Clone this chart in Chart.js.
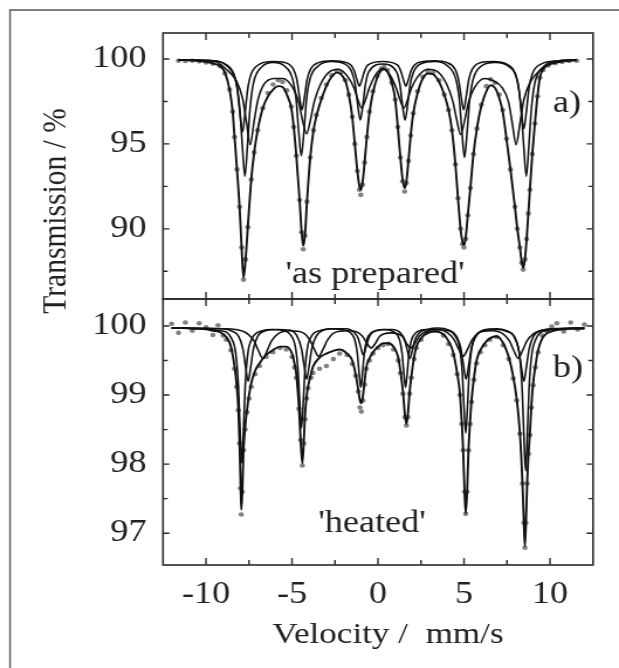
<!DOCTYPE html>
<html><head><meta charset="utf-8">
<script src="https://cdn.jsdelivr.net/npm/chart.js@4.4.1/dist/chart.umd.min.js"></script>
<style>
html,body{margin:0;padding:0;background:#fff;}
#wrap{position:relative;width:619px;height:668px;overflow:hidden;background:#fff;}
canvas{position:absolute;left:0;top:0;}
</style></head><body>
<div id="wrap">
<canvas id="ca" width="529" height="668" style="width:619px;height:668px"></canvas>
<canvas id="cb" width="529" height="668" style="width:619px;height:668px"></canvas>
</div>
<script>
// ---------- tick labels ----------
const xTicksMajor = [-10, -5, 0, 5, 10];
const xTicksMinor = [-7.5, -2.5, 2.5, 7.5];
const yTicksA = [90, 95, 100];
const yTicksAMinor = [87.5, 92.5, 97.5];
const yTicksB = [97, 98, 99, 100];
const yTicksBMinor = [97.5, 98.5, 99.5];

// ---------- panel a) 'as prepared' : velocity (mm/s), total fit, measured ----------
const velA = [
-11.6, -11.2, -10.8, -10.4, -10.0, -9.6, -9.2, -8.9, -8.63, -8.45,
-8.34, -8.2, -8.05, -7.93, -7.82, -7.7, -7.57, -7.37, -7.2, -7.0,
-6.7, -6.4, -6.1, -5.8, -5.55, -5.3, -5.04, -4.9, -4.75, -4.56,
-4.44, -4.35, -4.25, -4.13, -3.94, -3.75, -3.59, -3.3, -3.0, -2.7,
-2.4, -2.15, -1.9, -1.7, -1.5, -1.35, -1.2, -1.08, -1.0, -0.9,
-0.78, -0.65, -0.5, -0.3, -0.05, 0.2, 0.35, 0.55, 0.8, 1.0,
1.15, 1.3, 1.43, 1.55, 1.65, 1.77, 1.9, 2.05, 2.3, 2.6,
2.9, 3.2, 3.55, 3.85, 4.1, 4.3, 4.5, 4.65, 4.8, 4.92,
5.0, 5.1, 5.22, 5.37, 5.55, 5.75, 6.0, 6.3, 6.55, 6.8,
7.05, 7.25, 7.47, 7.7, 7.96, 8.1, 8.25, 8.35, 8.44, 8.54,
8.64, 8.74, 8.83, 8.97, 9.12, 9.27, 9.41, 9.6, 9.9, 10.3,
10.7, 11.1, 11.55];
const fitA = [
99.95, 99.94, 99.92, 99.88, 99.83, 99.74, 99.6, 99.2, 98.2, 96.9,
95.4, 93.5, 91.3, 88.9, 87.1, 88.2, 90.1, 92.9, 94.5, 95.8,
97.1, 97.8, 98.2, 98.4, 98.35, 97.9, 97.1, 96.0, 94.3, 91.7,
89.8, 89.0, 89.6, 91.6, 94.2, 95.8, 96.6, 97.6, 98.4, 98.95,
99.2, 99.1, 98.7, 97.9, 96.6, 95.0, 93.4, 92.5, 92.3, 92.7,
93.9, 95.4, 96.8, 98.0, 98.9, 99.35, 99.4, 99.25, 98.6, 97.6,
96.0, 94.2, 92.9, 92.4, 92.8, 94.0, 95.5, 96.8, 98.0, 98.85,
99.15, 99.1, 98.65, 97.9, 97.0, 95.8, 93.8, 91.8, 90.0, 89.2,
89.05, 89.5, 90.8, 92.4, 94.4, 95.9, 97.2, 98.1, 98.45, 98.3,
97.7, 96.9, 95.3, 93.5, 91.3, 90.0, 88.9, 88.1, 87.7, 88.2,
89.4, 90.9, 92.3, 94.4, 96.2, 97.8, 98.9, 99.4, 99.65, 99.78,
99.85, 99.9, 99.93];
const dataA = [
99.9, 99.88, 99.9, 99.86, 99.8, 99.72, 99.58, 99.15, 98.2, 96.9,
95.4, 93.5, 91.3, 88.9, 87.0, 88.2, 90.1, 92.9, 94.5, 95.8,
97.1, 98.0, 98.5, 98.75, 98.65, 98.15, 97.2, 96.0, 94.3, 91.7,
89.8, 88.8, 89.6, 91.6, 94.2, 95.8, 96.7, 97.7, 98.5, 99.05,
99.3, 99.2, 98.75, 97.9, 96.6, 95.0, 93.4, 92.3, 92.0, 92.6,
93.9, 95.4, 96.9, 98.1, 99.0, 99.45, 99.55, 99.35, 98.6, 97.6,
96.0, 94.2, 92.8, 92.2, 92.7, 94.0, 95.5, 96.8, 98.1, 98.95,
99.3, 99.2, 98.75, 97.9, 97.0, 95.8, 93.8, 91.8, 90.0, 89.1,
88.9, 89.4, 90.8, 92.4, 94.4, 95.9, 97.3, 98.4, 98.8, 98.6,
97.9, 97.0, 95.3, 93.5, 91.3, 90.0, 88.9, 88.0, 87.6, 88.2,
89.4, 90.9, 92.3, 94.4, 96.2, 97.8, 98.9, 99.35, 99.62, 99.75,
99.83, 99.88, 99.9];

// panel a) sub-spectra
const subA1Vel = [-11.6, -9.5, -8.74, -8.24, -8.04, -7.89, -7.74, -7.59, -7.44, -7.24, -6.74, -6.1,
-5.46, -4.96, -4.76, -4.61, -4.46, -4.31, -4.16, -3.96, -3.46, -2.7,
-2.03, -1.53, -1.33, -1.18, -1.03, -0.88, -0.73, -0.53, 0.27,
1.07, 1.27, 1.42, 1.57, 1.72, 1.87, 2.07, 2.57, 3.3,
4.03, 4.53, 4.73, 4.88, 5.03, 5.18, 5.33, 5.53, 6.03, 6.8,
7.62, 8.12, 8.32, 8.47, 8.62, 8.77, 8.92, 9.12, 9.62, 10.5, 11.55];
const subA1 = [99.95, 99.9, 99.55, 98.6, 97.1, 94.9, 93.1, 94.9, 97.1, 98.6, 99.55, 99.8,
99.6, 98.8, 97.6, 95.7, 94.3, 95.7, 97.6, 98.8, 99.6, 99.85,
99.75, 99.25, 98.5, 97.3, 96.4, 97.3, 98.5, 99.25, 99.7,
99.25, 98.5, 97.3, 96.4, 97.3, 98.5, 99.25, 99.75, 99.85,
99.6, 98.8, 97.6, 95.7, 94.2, 95.7, 97.6, 98.8, 99.6, 99.8,
99.55, 98.6, 97.1, 94.9, 93.1, 94.9, 97.1, 98.6, 99.55, 99.9, 99.95];

const subA2Vel = [-11.6, -9.6, -8.88, -8.38, -8.18, -8.03, -7.88, -7.73, -7.58, -7.38, -6.88, -6.15,
-5.42, -4.92, -4.72, -4.57, -4.42, -4.27, -4.12, -3.92, -3.42, -2.7,
-2.08, -1.58, -1.38, -1.23, -1.08, -0.93, -0.78, -0.58, 0.27,
1.12, 1.32, 1.47, 1.62, 1.77, 1.92, 2.12, 2.62, 3.3,
3.98, 4.48, 4.68, 4.83, 4.98, 5.13, 5.28, 5.48, 5.98, 6.7,
7.48, 7.98, 8.18, 8.33, 8.48, 8.63, 8.78, 8.98, 9.48, 10.5, 11.55];
const subA2 = [99.95, 99.9, 99.7, 99.1, 98.2, 96.8, 95.7, 96.8, 98.2, 99.1, 99.7, 99.85,
99.8, 99.4, 98.8, 97.8, 97.0, 97.8, 98.8, 99.4, 99.8, 99.9,
99.85, 99.65, 99.3, 98.8, 98.4, 98.8, 99.3, 99.65, 99.85,
99.65, 99.3, 98.8, 98.4, 98.8, 99.3, 99.65, 99.85, 99.9,
99.8, 99.4, 98.8, 97.8, 97.0, 97.8, 98.8, 99.4, 99.8, 99.85,
99.7, 99.15, 98.3, 96.95, 95.9, 96.95, 98.3, 99.15, 99.7, 99.9, 99.95];

const subA3Vel = [-11.6, -9.5, -8.83, -8.23, -7.88, -7.65, -7.43, -7.21, -6.98, -6.63, -6.03,
-5.55, -4.95, -4.6, -4.37, -4.15, -3.93, -3.7, -3.35, -2.75, -2.3,
-1.75, -1.4, -1.17, -0.95, -0.73, -0.5, -0.15, 0.3,
0.7, 1.05, 1.28, 1.5, 1.72, 1.95, 2.3, 2.9,
3.4, 4.0, 4.35, 4.58, 4.8, 5.02, 5.25, 5.6, 6.2,
6.63, 7.23, 7.58, 7.81, 8.03, 8.25, 8.48, 8.83, 9.43, 10.3, 11.55];
const subA3 = [99.93, 99.85, 99.4, 98.7, 97.7, 96.3, 94.95, 96.3, 97.6, 98.5, 98.85,
98.85, 98.3, 97.4, 96.3, 95.6, 96.4, 97.5, 98.5, 99.3, 99.4,
98.95, 98.3, 97.6, 97.1, 97.6, 98.3, 99.05, 99.45,
99.05, 98.3, 97.6, 97.1, 97.6, 98.3, 98.95, 99.4,
99.3, 98.5, 97.5, 96.4, 95.55, 96.3, 97.4, 98.3, 98.85,
98.75, 98.3, 97.5, 96.2, 94.95, 96.2, 97.6, 98.6, 99.35, 99.8, 99.93];

// ---------- panel b) 'heated' ----------
const velB = [
-12.0, -11.6, -11.2, -10.8, -10.4, -10.0, -9.6, -9.3, -9.0, -8.82,
-8.55, -8.34, -8.22, -8.12, -8.05, -7.99, -7.95, -7.89, -7.82, -7.72,
-7.62, -7.5, -7.37, -7.15, -6.89, -6.5, -6.11, -5.7, -5.33, -5.0,
-4.85, -4.75, -4.6, -4.5, -4.4, -4.32, -4.25, -4.15, -4.07, -3.9,
-3.78, -3.4, -3.0, -2.6, -2.23, -1.8, -1.5, -1.3, -1.15, -1.05,
-0.97, -0.88, -0.78, -0.68, -0.5, -0.29, 0.0, 0.29, 0.6, 0.9,
1.17, 1.3, 1.45, 1.57, 1.65, 1.73, 1.84, 1.94, 2.1, 2.23,
2.5, 2.82, 3.3, 3.8, 4.1, 4.37, 4.6, 4.76, 4.87, 4.95,
5.03, 5.1, 5.18, 5.26, 5.35, 5.44, 5.58, 5.73, 5.95, 6.21,
6.5, 6.89, 7.28, 7.6, 7.86, 8.06, 8.25, 8.4, 8.48, 8.54,
8.6, 8.67, 8.75, 8.83, 8.92, 9.02, 9.15, 9.31, 9.55, 9.8,
10.1, 10.4, 10.8, 11.2, 11.6, 12.0];
const fitB = [
99.97, 99.97, 99.97, 99.96, 99.96, 99.95, 99.93, 99.92, 99.88, 99.84,
99.7, 99.41, 99.15, 98.8, 98.3, 97.7, 97.34, 97.6, 98.2, 98.55,
98.78, 99.0, 99.17, 99.35, 99.46, 99.58, 99.65, 99.7, 99.7, 99.6,
99.45, 99.3, 98.83, 98.35, 98.01, 98.3, 98.69, 98.98, 99.12, 99.3,
99.41, 99.54, 99.6, 99.64, 99.66, 99.6, 99.5, 99.3, 99.08, 98.92,
98.88, 98.98, 99.2, 99.4, 99.53, 99.62, 99.7, 99.75, 99.75, 99.7,
99.55, 99.35, 99.05, 98.7, 98.58, 98.7, 99.05, 99.27, 99.55, 99.7,
99.82, 99.89, 99.92, 99.88, 99.78, 99.62, 99.32, 99.03, 98.6, 98.2,
97.6, 97.29, 97.6, 98.2, 98.6, 98.93, 99.25, 99.5, 99.65, 99.75,
99.82, 99.85, 99.75, 99.55, 99.27, 98.95, 98.45, 97.72, 97.15, 96.81,
97.15, 97.72, 98.15, 98.45, 98.85, 99.17, 99.42, 99.65, 99.82, 99.89,
99.92, 99.94, 99.95, 99.96, 99.96, 99.96];
const dataB = [
100.03, 99.9, 100.05, 99.93, 100.04, 99.98, 99.87, 100.01, 99.86, 99.8,
99.65, 99.38, 99.12, 98.78, 98.3, 97.65, 97.27, 97.6, 98.2, 98.5,
98.75, 98.95, 99.12, 99.3, 99.42, 99.55, 99.62, 99.68, 99.66, 99.55,
99.4, 99.25, 98.8, 98.35, 97.98, 98.3, 98.65, 98.95, 99.1, 99.25,
99.32, 99.38, 99.42, 99.52, 99.6, 99.58, 99.45, 99.28, 99.05, 98.82,
98.76, 98.92, 99.15, 99.38, 99.5, 99.6, 99.68, 99.72, 99.74, 99.66,
99.5, 99.32, 99.02, 98.68, 98.56, 98.68, 99.02, 99.25, 99.52, 99.68,
99.8, 99.9, 99.94, 99.86, 99.74, 99.58, 99.3, 99.0, 98.58, 98.2,
97.6, 97.28, 97.6, 98.2, 98.58, 98.9, 99.22, 99.46, 99.62, 99.72,
99.8, 99.84, 99.72, 99.52, 99.24, 98.92, 98.44, 97.72, 97.15, 96.79,
97.15, 97.72, 98.15, 98.42, 98.82, 99.14, 99.4, 99.62, 99.86, 99.93,
99.99, 100.04, 99.92, 100.05, 99.95, 100.02];

// panel b) sub-spectra
const subB1Vel = [-12, -9.12, -8.52, -8.27, -8.12, -8.02, -7.92, -7.82, -7.72, -7.57, -7.32, -6.72, -6.2,
-5.65, -5.05, -4.8, -4.65, -4.55, -4.45, -4.35, -4.25, -4.1, -3.85, -3.25, -2.7,
-2.2, -1.6, -1.35, -1.2, -1.1, -1.0, -0.9, -0.8, -0.65, -0.4, 0.3,
1.0, 1.25, 1.4, 1.5, 1.6, 1.7, 1.8, 1.95, 2.2, 2.8,
3.9, 4.5, 4.75, 4.9, 5.0, 5.1, 5.2, 5.3, 5.45, 5.7, 6.3, 6.9,
7.38, 7.98, 8.23, 8.38, 8.48, 8.58, 8.68, 8.78, 8.93, 9.18, 9.78, 12];
const subB1 = [99.97, 99.93, 99.82, 99.6, 99.14, 98.5, 98.02, 98.5, 99.14, 99.6, 99.82, 99.93, 99.95,
99.94, 99.86, 99.69, 99.35, 98.88, 98.52, 98.88, 99.35, 99.69, 99.86, 99.94, 99.96,
99.95, 99.9, 99.8, 99.6, 99.32, 99.11, 99.32, 99.6, 99.8, 99.9, 99.95,
99.9, 99.8, 99.6, 99.32, 99.11, 99.32, 99.6, 99.8, 99.9, 99.95,
99.94, 99.85, 99.68, 99.32, 98.82, 98.45, 98.82, 99.32, 99.68, 99.85, 99.94, 99.95,
99.93, 99.81, 99.57, 99.09, 98.42, 97.9, 98.42, 99.09, 99.57, 99.81, 99.93, 99.97];

const subB2Vel = [-12, -9.0, -8.55, -8.1, -7.85, -7.7, -7.55, -7.4, -7.25, -7.0, -6.55, -5.85,
-5.15, -4.7, -4.45, -4.3, -4.15, -4.0, -3.85, -3.6, -3.15, -2.5,
-1.85, -1.4, -1.15, -1.0, -0.85, -0.7, -0.55, -0.3, 0.5,
0.85, 1.3, 1.55, 1.7, 1.85, 2.0, 2.15, 2.4, 2.85, 3.5,
4.12, 4.57, 4.82, 4.97, 5.12, 5.27, 5.42, 5.67, 6.12, 6.9,
7.48, 7.93, 8.18, 8.33, 8.48, 8.63, 8.78, 9.03, 9.48, 10.5, 12];
const subB2 = [99.97, 99.96, 99.93, 99.85, 99.66, 99.41, 99.2, 99.41, 99.66, 99.85, 99.93, 99.95,
99.94, 99.85, 99.67, 99.43, 99.23, 99.43, 99.67, 99.85, 99.94, 99.96,
99.96, 99.91, 99.82, 99.69, 99.58, 99.69, 99.82, 99.91, 99.95,
99.95, 99.9, 99.8, 99.65, 99.53, 99.65, 99.8, 99.9, 99.95, 99.97,
99.94, 99.85, 99.67, 99.43, 99.23, 99.43, 99.67, 99.85, 99.94, 99.96,
99.93, 99.85, 99.66, 99.41, 99.2, 99.41, 99.66, 99.85, 99.93, 99.96, 99.97];

const subB3Vel = [-12, -9.0, -8.3, -7.6, -7.2, -6.95, -6.7, -6.45, -6.2, -5.8, -5.1,
-4.35, -3.95, -3.7, -3.45, -3.2, -2.95, -2.55, -1.8,
-1.3, -0.9, -0.65, -0.4, -0.15, 0.1, 0.75,
1.4, 1.65, 1.9, 2.15, 2.4, 2.8, 3.4,
4.05, 4.45, 4.7, 4.95, 5.2, 5.45, 5.85, 6.6,
7.25, 7.65, 7.9, 8.15, 8.4, 8.65, 9.05, 9.75, 12];
const subB3 = [99.97, 99.96, 99.95, 99.89, 99.78, 99.64, 99.53, 99.64, 99.78, 99.89, 99.93,
99.9, 99.79, 99.66, 99.56, 99.66, 99.79, 99.9, 99.93,
99.92, 99.85, 99.75, 99.68, 99.75, 99.85, 99.9,
99.85, 99.75, 99.68, 99.75, 99.85, 99.92, 99.95,
99.9, 99.79, 99.66, 99.56, 99.66, 99.79, 99.9, 99.93,
99.89, 99.78, 99.64, 99.53, 99.64, 99.78, 99.89, 99.95, 99.97];

// ---------- layout (the source figure is stretched horizontally) ----------
const W = 529, H = 668, K = 619 / W;
const FONT = '"Liberation Serif", "Times New Roman", Times, serif';
const INK = '#222';
const X_MIN = -12.5, X_MAX = 12.5;
const YA_MIN = 85.87, YA_MAX = 101.53;
const YB_MIN = 96.54, YB_MAX = 100.39;
const PLOT_LEFT = 163 / K, PLOT_RIGHT = 593 / K;
const A_TOP = 33, MID = 299, B_BOTTOM = 565;
const TICK_SIZE = 31;

const pts = (xs, ys) => xs.map((x, i) => ({x, y: ys[i]}));
const lineSet = (xs, ys, w) => ({
  data: pts(xs, ys), borderColor: '#111', borderWidth: w, pointRadius: 0,
  cubicInterpolationMode: 'monotone', fill: false, order: 1
});
const dotSet = (xs, ys) => ({
  data: pts(xs, ys), showLine: false, pointRadius: 2.3, pointBorderWidth: 0,
  pointBackgroundColor: '#828282', borderColor: '#828282', order: 5
});

const framePlugin = (yMajor, yMinor) => ({
  id: 'frame',
  afterDatasetsDraw(chart) {
    const {ctx, chartArea: a} = chart;
    const sx = chart.scales.x, sy = chart.scales.y;
    ctx.save();
    ctx.strokeStyle = '#2a2a2a';
    ctx.lineWidth = 1.4;
    ctx.beginPath();
    [[xTicksMajor, 7], [xTicksMinor, 5]].forEach(([vals, len]) => vals.forEach(v => {
      const p = sx.getPixelForValue(v);
      ctx.moveTo(p, a.bottom); ctx.lineTo(p, a.bottom - len);
      ctx.moveTo(p, a.top); ctx.lineTo(p, a.top + len);
    }));
    [[yMajor, 5.5], [yMinor, 4]].forEach(([vals, len]) => vals.forEach(v => {
      const p = sy.getPixelForValue(v);
      ctx.moveTo(a.left, p); ctx.lineTo(a.left + len, p);
      ctx.moveTo(a.right, p); ctx.lineTo(a.right - len, p);
    }));
    ctx.stroke();
    ctx.lineWidth = 1.6;
    ctx.strokeRect(a.left, a.top, a.right - a.left, a.bottom - a.top);
    ctx.restore();
  }
});

const notes = [
  {text: "'as prepared'", x: 375 / K, y: 283, size: 31},
  {text: 'a)', x: 567 / K, y: 112, size: 31},
  {text: "'heated'", x: 372 / K, y: 532, size: 31},
  {text: 'b)', x: 568 / K, y: 377, size: 31},
  {text: 'Velocity /  mm/s', x: 388 / K, y: 643, size: 30}
];
const textPlugin = {
  id: 'texts',
  afterDraw(chart) {
    const ctx = chart.ctx;
    ctx.save();
    // outer figure frame
    ctx.strokeStyle = '#555'; ctx.lineWidth = 1.4;
    ctx.beginPath(); ctx.moveTo(10 / K, H); ctx.lineTo(10 / K, 10); ctx.lineTo(W, 10); ctx.stroke();
    ctx.fillStyle = INK; ctx.textAlign = 'center'; ctx.textBaseline = 'alphabetic';
    notes.forEach(n => { ctx.font = n.size + 'px ' + FONT; ctx.fillText(n.text, n.x, n.y); });
    ctx.translate(65 / K, 211); ctx.rotate(-Math.PI / 2);
    ctx.font = '29.5px ' + FONT;
    ctx.fillText('Transmission / %', 0, 0);
    ctx.restore();
  }
};

const yAxis = (min, max, ticks) => ({
  type: 'linear', position: 'left', min, max,
  grid: {display: false}, border: {display: false},
  afterFit(s) { s.width = PLOT_LEFT; },
  afterBuildTicks(s) { s.ticks = ticks.map(v => ({value: v})); },
  ticks: {font: {family: FONT, size: TICK_SIZE}, color: INK, padding: 6, autoSkip: false, callback: v => String(v)}
});
const common = {
  responsive: false, animation: false, devicePixelRatio: 1,
  plugins: {legend: {display: false}, tooltip: {enabled: false}},
  events: []
};

const charts = [];
charts.push(new Chart(document.getElementById('ca'), {
  type: 'line',
  data: {datasets: [
    lineSet(velA, fitA, 1.9),
    lineSet(subA1Vel, subA1, 1.55),
    lineSet(subA2Vel, subA2, 1.55),
    lineSet(subA3Vel, subA3, 1.55),
    dotSet(velA, dataA)
  ]},
  options: Object.assign({}, common, {
    layout: {padding: {left: 0, top: A_TOP, right: W - PLOT_RIGHT, bottom: H - MID}},
    scales: {
      x: {type: 'linear', min: X_MIN, max: X_MAX, display: false},
      y: yAxis(YA_MIN, YA_MAX, yTicksA)
    }
  }),
  plugins: [framePlugin(yTicksA, yTicksAMinor)]
}));

charts.push(new Chart(document.getElementById('cb'), {
  type: 'line',
  data: {datasets: [
    lineSet(velB, fitB, 1.9),
    lineSet(subB1Vel, subB1, 1.55),
    lineSet(subB2Vel, subB2, 1.55),
    lineSet(subB3Vel, subB3, 1.55),
    dotSet(velB, dataB)
  ]},
  options: Object.assign({}, common, {
    layout: {padding: {left: 0, top: MID, right: W - PLOT_RIGHT, bottom: 0}},
    scales: {
      x: {type: 'linear', position: 'bottom', min: X_MIN, max: X_MAX,
          grid: {display: false}, border: {display: false},
          afterFit(s) { s.height = H - B_BOTTOM; },
          afterBuildTicks(s) { s.ticks = xTicksMajor.map(v => ({value: v})); },
          ticks: {font: {family: FONT, size: TICK_SIZE}, color: INK, padding: 3, maxRotation: 0, autoSkip: false,
                  callback: v => String(v)}},
      y: yAxis(YB_MIN, YB_MAX, yTicksB)
    }
  }),
  plugins: [framePlugin(yTicksB, yTicksBMinor), textPlugin]
}));

if (document.fonts && document.fonts.load) {
  Promise.all([document.fonts.load('31px "Liberation Serif"'), document.fonts.load('30px "Liberation Serif"')])
    .then(() => charts.forEach(c => c.update()))
    .catch(() => {});
}
</script>
</body></html>
